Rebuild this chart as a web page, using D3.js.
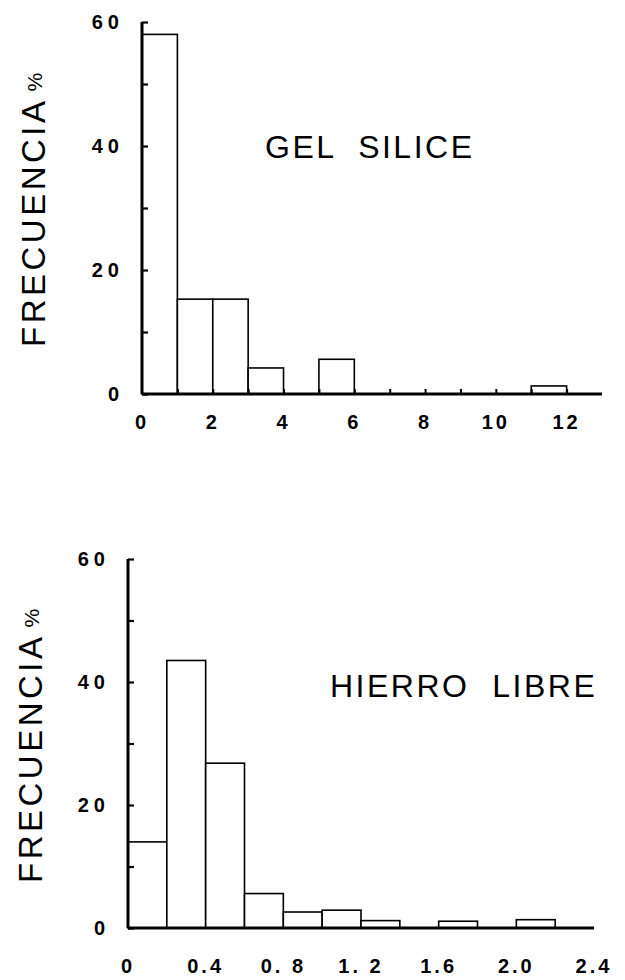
<!DOCTYPE html>
<html>
<head>
<meta charset="utf-8">
<script src="https://cdn.jsdelivr.net/npm/d3@7"></script>
<style>
  body { margin: 0; background: #fff; }
  svg { display: block; }
</style>
</head>
<body>
<svg id="chart" width="625" height="980"></svg>
<script>
// gel silice: 1-unit bins from 0 to 12
var gelBins = [0, 1, 2, 3, 4, 5, 6, 7, 8, 9, 10, 11]
var gelFreq = [58, 15.3, 15.3, 4.2, 0, 5.6, 0, 0, 0, 0, 0, 1.3]
var gelXTicks = [0, 2, 4, 6, 8, 10, 12]

// hierro libre: 0.2 bins from 0 to 2.4
var hierroBins = [0, 0.2, 0.4, 0.6, 0.8, 1.0, 1.2, 1.4, 1.6, 1.8, 2.0, 2.2]
var hierroFreq = [14, 43.5, 26.8, 5.6, 2.6, 2.9, 1.2, 0, 1.1, 0, 1.35, 0]
var hierroXTicks = [0, 0.4, 0.8, 1.2, 1.6, 2.0, 2.4]
var hierroXLabels = ["0", "0.4", "0. 8", "1. 2", "1.6", "2.0", "2.4"]

var yTicks = [0, 20, 40, 60]
var yMinor = [10, 30, 50]

var svg = d3.select("#chart")

function drawHist(cfg) {
    var x = d3.scaleLinear().domain(cfg.xDomain).range(cfg.xRange)
    var y = d3.scaleLinear().domain([0, 60]).range(cfg.yRange)
    var g = svg.append("g")

    var data = cfg.bins.map((b, i) => ({x0: b, x1: b + cfg.step, v: cfg.freq[i]}))
                       .filter(d => d.v > 0)

    g.selectAll(".bar")
     .data(data)
     .enter()
     .append("rect")
     .attr("class", "bar")
     .attr("x", d => x(d.x0))
     .attr("y", d => y(d.v))
     .attr("width", d => x(d.x1) - x(d.x0))
     .attr("height", d => y(0) - y(d.v))
     .attr("fill", "white")
     .attr("stroke", "black")
     .attr("stroke-width", 1.6)

    // y axis, ticks pointing inward
    var yAxis = d3.axisLeft(y)
                  .tickValues(yTicks.concat(yMinor))
                  .tickSize(-6)
                  .tickPadding(cfg.yPad)
                  .tickFormat(d => yTicks.includes(d) ? d : "")
    var ya = g.append("g")
              .attr("transform", `translate(${x(0)},0)`)
              .call(yAxis)
    ya.select(".domain").attr("stroke-width", 3).attr("d", `M0,${y(60)}V${y(0)}`)
    ya.selectAll(".tick line").attr("stroke-width", 2.2)
    ya.selectAll("text")
      .attr("font-family", "Liberation Sans, Arial, sans-serif")
      .attr("font-weight", "bold")
      .attr("font-size", 20)
      .attr("letter-spacing", 5)
      .attr("fill", "black")

    // x axis
    var xAxis = d3.axisBottom(x)
                  .tickValues(cfg.xMinor)
                  .tickSize(-5)
                  .tickFormat("")
    var xa = g.append("g")
              .attr("transform", `translate(0,${y(0)})`)
              .call(xAxis)
    xa.select(".domain").attr("stroke-width", 3)
      .attr("d", `M${x(0)},0H${x(cfg.xDomain[1])}`)
    xa.selectAll(".tick line").attr("stroke-width", 2)

    g.selectAll(".xlab")
     .data(cfg.xTicks)
     .enter()
     .append("text")
     .attr("class", "xlab")
     .attr("x", d => x(d))
     .attr("y", cfg.xLabelY)
     .attr("text-anchor", "middle")
     .attr("font-family", "Liberation Sans, Arial, sans-serif")
     .attr("font-weight", "bold")
     .attr("font-size", 20)
     .attr("letter-spacing", 3)
     .text((d, i) => cfg.xLabels ? cfg.xLabels[i] : d)

    // rotated y label
    var lab = g.append("text")
               .attr("transform", `translate(${cfg.labelX},${cfg.labelY}) rotate(-90)`)
               .attr("font-family", "Liberation Sans, Arial, sans-serif")
               .attr("font-size", 33)
               .attr("letter-spacing", 3.5)
               .attr("fill", "black")
    lab.append("tspan").text("FRECUENCIA")
    lab.append("tspan").attr("dx", 6).attr("dy", -3).attr("font-size", 21).attr("letter-spacing", 0).text("%")

    g.append("text")
     .attr("x", cfg.titleX)
     .attr("y", cfg.titleY)
     .attr("font-family", "Liberation Sans, Arial, sans-serif")
     .attr("font-size", 32)
     .attr("letter-spacing", 2.5)
     .attr("xml:space", "preserve")
     .style("white-space", "pre")
     .text(cfg.title)
}

drawHist({
    bins: gelBins, freq: gelFreq, step: 1,
    xDomain: [0, 13], xRange: [142, 602], yRange: [394, 22],
    xMinor: d3.range(1, 13), xTicks: gelXTicks, xLabelY: 429,
    yPad: 18, labelX: 45, labelY: 347,
    title: "GEL  SILICE", titleX: 265, titleY: 158
})

drawHist({
    bins: hierroBins, freq: hierroFreq, step: 0.2,
    xDomain: [0, 2.4], xRange: [128, 594], yRange: [928, 559],
    xMinor: [], xTicks: hierroXTicks, xLabels: hierroXLabels, xLabelY: 973,
    yPad: 18, labelX: 42, labelY: 883,
    title: "HIERRO  LIBRE", titleX: 330, titleY: 697
})
</script>
</body>
</html>
